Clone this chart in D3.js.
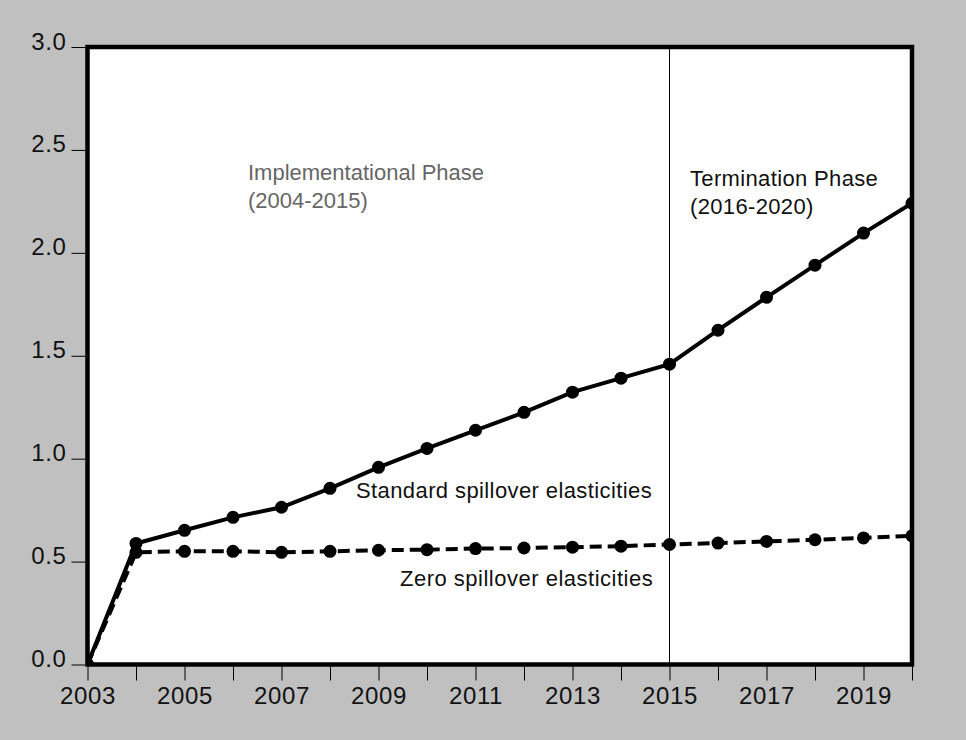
<!DOCTYPE html>
<html>
<head>
<meta charset="utf-8">
<script src="https://cdn.jsdelivr.net/npm/d3@7/dist/d3.min.js"></script>
<style>
  html, body { margin: 0; padding: 0; background: #c0c0c0; }
  svg { display: block; }
  text { font-family: Arial, "Liberation Sans", sans-serif; }
</style>
</head>
<body>
<svg id="chart" width="966" height="740"></svg>
<script>
// Years on the x axis
const years = [2003, 2004, 2005, 2006, 2007, 2008, 2009, 2010, 2011, 2012,
               2013, 2014, 2015, 2016, 2017, 2018, 2019, 2020];
// Cumulative effect with standard spillover elasticities
const standardSeries = [0.00, 0.588, 0.652, 0.715, 0.764, 0.856, 0.958, 1.050, 1.138,
                        1.225, 1.323, 1.391, 1.459, 1.624, 1.784, 1.940, 2.096, 2.241];
// Cumulative effect with zero spillover elasticities
const zeroSeries = [0.00, 0.545, 0.550, 0.550, 0.545, 0.550, 0.555, 0.558, 0.563,
                    0.566, 0.570, 0.575, 0.583, 0.590, 0.598, 0.606, 0.615, 0.625];
const xTickYears = [2003, 2005, 2007, 2009, 2011, 2013, 2015, 2017, 2019];
const yTicks = [0, 0.5, 1.0, 1.5, 2.0, 2.5, 3.0];
const phaseBoundary = 2015;

const svg = d3.select("#chart");
const plotL = 87.5, plotR = 912, plotT = 47, plotB = 664.5;

const x = d3.scaleLinear().domain([2003, 2020]).range([plotL, plotR]);
const y = d3.scaleLinear().domain([0, 3]).range([plotB, plotT]);

// plot background
svg.append("rect")
  .attr("x", plotL).attr("y", plotT)
  .attr("width", plotR - plotL).attr("height", plotB - plotT)
  .attr("fill", "#ffffff");

svg.append("clipPath").attr("id", "plotClip")
  .append("rect")
  .attr("x", plotL).attr("y", plotT)
  .attr("width", plotR - plotL).attr("height", plotB - plotT);

// x axis: a tick every year, labels every other year
const xAxis = d3.axisBottom(x)
  .tickValues(years)
  .tickSize(14)
  .tickSizeOuter(0)
  .tickFormat(d => xTickYears.includes(d) ? String(d) : "");
const gx = svg.append("g")
  .attr("transform", `translate(0,${plotB + 2})`)
  .call(xAxis);
gx.select(".domain").remove();
gx.selectAll(".tick line").attr("stroke", "#000").attr("stroke-width", 1);
gx.selectAll(".tick text")
  .attr("fill", "#111")
  .attr("font-size", 24)
  .attr("y", 0)
  .attr("dy", 0)
  .attr("transform", "translate(0,37)")
  .style("letter-spacing", "0.6px");

// y axis
const yAxis = d3.axisLeft(y)
  .tickValues(yTicks)
  .tickSize(14)
  .tickSizeOuter(0)
  .tickFormat(d3.format(".1f"));
const gy = svg.append("g")
  .attr("transform", `translate(${plotL - 2},0)`)
  .call(yAxis);
gy.select(".domain").remove();
gy.selectAll(".tick line").attr("stroke", "#000").attr("stroke-width", 1);
gy.selectAll(".tick text")
  .attr("fill", "#111")
  .attr("font-size", 24)
  .attr("x", -19)
  .attr("dy", 2)
  .style("letter-spacing", "0.6px");

const plot = svg.append("g").attr("clip-path", "url(#plotClip)");

// phase boundary
plot.append("line")
  .attr("x1", x(phaseBoundary)).attr("x2", x(phaseBoundary))
  .attr("y1", plotT).attr("y2", plotB)
  .attr("stroke", "#000").attr("stroke-width", 1);

const lineGen = d3.line().x((d, i) => x(years[i])).y(d => y(d));

// zero spillover series (dashed)
plot.append("path")
  .datum(zeroSeries)
  .attr("d", lineGen)
  .attr("fill", "none")
  .attr("stroke", "#000")
  .attr("stroke-width", 4)
  .attr("stroke-dasharray", "12,6");
plot.selectAll(".zdot")
  .data(zeroSeries)
  .join("circle")
  .attr("class", "zdot")
  .attr("cx", (d, i) => x(years[i]))
  .attr("cy", d => y(d))
  .attr("r", 6.5)
  .attr("fill", "#000");

// standard spillover series (solid)
plot.append("path")
  .datum(standardSeries)
  .attr("d", lineGen)
  .attr("fill", "none")
  .attr("stroke", "#000")
  .attr("stroke-width", 4);
plot.selectAll(".sdot")
  .data(standardSeries)
  .join("circle")
  .attr("class", "sdot")
  .attr("cx", (d, i) => x(years[i]))
  .attr("cy", d => y(d))
  .attr("r", 6.5)
  .attr("fill", "#000");

// frame
svg.append("rect")
  .attr("x", plotL).attr("y", plotT)
  .attr("width", plotR - plotL).attr("height", plotB - plotT)
  .attr("fill", "none")
  .attr("stroke", "#000")
  .attr("stroke-width", 4.5);

// annotations
const notes = [
  { lines: ["Implementational Phase", "(2004-2015)"], x: 248, y: 180, color: "#666", ls: 0 },
  { lines: ["Termination Phase", "(2016-2020)"], x: 690, y: 186, color: "#111", ls: 0.35 },
  { lines: ["Standard spillover elasticities"], x: 356, y: 498, color: "#111", ls: 0.4 },
  { lines: ["Zero spillover elasticities"], x: 400, y: 586, color: "#111", ls: 0.5 }
];
notes.forEach(n => {
  const t = svg.append("text")
    .attr("x", n.x).attr("y", n.y)
    .attr("fill", n.color)
    .attr("font-size", 22)
    .style("letter-spacing", n.ls + "px");
  n.lines.forEach((s, i) => {
    t.append("tspan").attr("x", n.x).attr("dy", i === 0 ? 0 : 28).text(s);
  });
});
</script>
</body>
</html>
